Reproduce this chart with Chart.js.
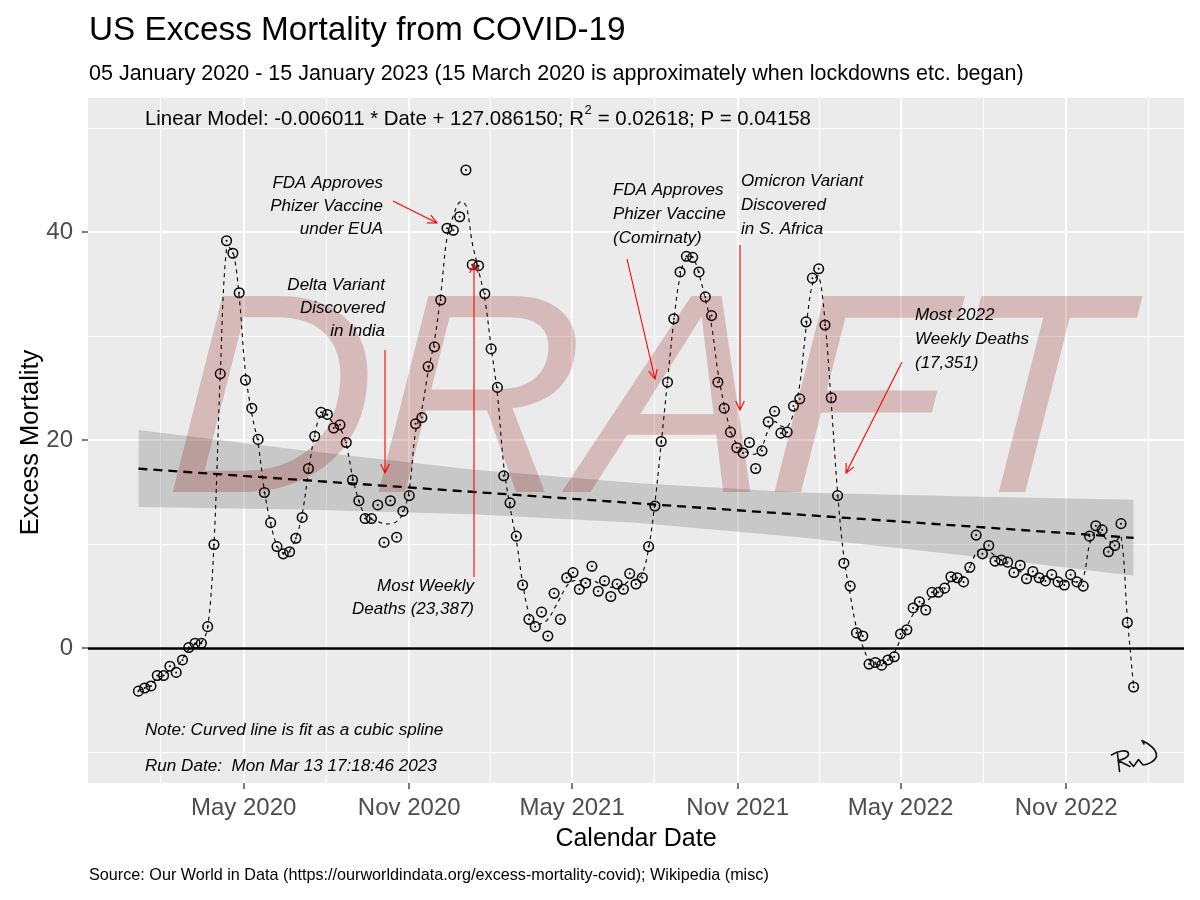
<!DOCTYPE html>
<html>
<head>
<meta charset="utf-8">
<script src="https://cdn.jsdelivr.net/npm/chart.js@4.4.1/dist/chart.umd.min.js"></script>
<style>
  html, body { margin: 0; padding: 0; background: #ffffff; }
  #wrap { width: 1200px; height: 900px; }
</style>
</head>
<body>
<div id="wrap"><canvas id="c" width="1200" height="900"></canvas></div>
<script>
// ---------------- DATA ----------------
const firstWeek = '2020-01-05';           // weekly observations, 05 Jan 2020 .. 15 Jan 2023
const excessMortality = [
  -4.1, -3.8, -3.6, -2.6, -2.6, -1.7, -2.3, -1.1, 0.1, 0.5,
  0.5, 2.1, 10.0, 26.4, 39.2, 38.0, 34.2, 25.8, 23.1, 20.1,
  15.0, 12.1, 9.8, 9.1, 9.3, 10.6, 12.6, 17.3, 20.4, 22.7,
  22.5, 21.2, 21.5, 19.8, 16.2, 14.2, 12.5, 12.5, 13.8, 10.2,
  14.2, 10.7, 13.2, 14.7, 21.6, 22.2, 27.1, 29.0, 33.5, 40.4,
  40.2, 41.5, 46.0, 36.9, 36.8, 34.1, 28.8, 25.1, 16.6, 14.0,
  10.8, 6.1, 2.8, 2.1, 3.5, 1.2, 5.3, 2.8, 6.8, 7.3,
  5.7, 6.3, 7.9, 5.5, 6.5, 5.0, 6.2, 5.7, 7.2, 6.2,
  6.8, 9.8, 13.7, 19.9, 25.6, 31.7, 36.2, 37.7, 37.6, 36.2,
  33.8, 32.0, 25.6, 23.1, 20.8, 19.3, 18.8, 19.8, 17.3, 19.0,
  21.8, 22.8, 20.7, 20.8, 23.3, 24.0, 31.4, 35.6, 36.5, 31.1,
  24.1, 14.7, 8.2, 6.0, 1.5, 1.2, -1.5, -1.35, -1.6, -1.1,
  -0.8, 1.4, 1.8, 3.9, 4.5, 3.7, 5.4, 5.4, 5.8, 6.9,
  6.8, 6.4, 7.8, 10.9, 9.1, 9.9, 8.4, 8.5, 8.3, 7.3,
  8.0, 6.7, 7.4, 6.8, 6.5, 7.1, 6.4, 6.1, 7.1, 6.4,
  6.0, 10.8, 11.8, 11.4, 9.3, 9.9, 12.0, 2.5, -3.7
];
// dashed cubic-spline curve, read at each week from the picture
const splineFit = [
  -4.0, -3.8, -3.4, -2.9, -2.5, -2.1, -1.8, -1.0, -0.1, 0.4,
  0.6, 2.0, 10.0, 26.4, 38.5, 38.2, 33.8, 26.5, 22.6, 19.7,
  15.2, 12.0, 9.9, 9.2, 9.4, 10.6, 12.9, 17.0, 20.6, 22.5,
  22.4, 21.6, 21.2, 19.6, 16.5, 14.2, 12.8, 12.4, 12.2, 12.0,
  12.0, 12.2, 13.0, 15.3, 20.8, 23.0, 26.6, 29.6, 34.0, 39.5,
  41.6, 42.9, 42.6, 39.0, 36.4, 33.6, 29.0, 24.4, 17.6, 13.6,
  10.4, 6.3, 3.4, 2.3, 2.4, 2.8, 3.8, 4.9, 6.0, 6.5,
  6.5, 6.6, 6.6, 6.3, 6.1, 5.9, 5.9, 6.1, 6.5, 6.6,
  7.2, 9.6, 14.0, 19.7, 25.7, 31.5, 35.8, 37.6, 37.6, 36.0,
  33.6, 31.0, 26.6, 23.4, 21.0, 19.6, 19.0, 18.8, 18.7, 19.4,
  21.0, 21.8, 21.4, 21.3, 22.6, 25.4, 30.8, 35.0, 35.8, 31.5,
  23.6, 15.0, 8.8, 5.2, 2.0, 0.2, -1.1, -1.5, -1.5, -1.1,
  -0.4, 0.9, 2.1, 3.3, 4.1, 4.5, 5.0, 5.5, 6.0, 6.5,
  6.7, 6.9, 7.8, 9.2, 9.6, 9.4, 8.9, 8.5, 8.1, 7.7,
  7.4, 7.1, 6.9, 6.8, 6.7, 6.7, 6.5, 6.4, 6.5, 6.4,
  6.8, 10.0, 11.3, 11.0, 10.3, 10.2, 10.8, 3.0, -3.7
];
// linear model trend (dashed) and its confidence ribbon
const trendDates  = ['2020-01-05', '2023-01-15'];
const trendValues = [17.29, 10.64];
const bandDates   = ['2020-01-05', '2020-07-05', '2021-01-10', '2021-07-11', '2022-01-09', '2022-07-17', '2023-01-15'];
const bandUpper   = [21.0, 19.05, 17.2, 15.9, 15.0, 14.6, 14.3];
const bandLower   = [13.6, 13.35, 12.9, 12.1, 10.7, 8.9, 7.0];
// axis ticks
const xTickDates  = ['2020-05-01', '2020-11-01', '2021-05-01', '2021-11-01', '2022-05-01', '2022-11-01'];
const xTickLabels = ['May 2020', 'Nov 2020', 'May 2021', 'Nov 2021', 'May 2022', 'Nov 2022'];
const yMajorTicks = [0, 20, 40];
const yMinorTicks = [-10, 10, 30, 50];
const axisRange   = { xFrom: '2019-11-10', xTo: '2023-03-12', yMin: -12.93, yMax: 52.92 };

// ---------------- helpers ----------------
const day = s => Date.parse(s + 'T00:00:00Z') / 86400000;
const weekDays = excessMortality.map((_, i) => day(firstWeek) + 7 * i);
const pts = arr => arr.map((v, i) => ({ x: weekDays[i], y: v }));
const xMajor = xTickDates.map(day);
const xMinor = [];
for (let i = 0; i < xMajor.length - 1; i++) xMinor.push((xMajor[i] + xMajor[i + 1]) / 2);
xMinor.unshift(xMajor[0] - (xMajor[1] - xMajor[0]) / 2);
xMinor.push(xMajor[xMajor.length - 1] + (xMajor[xMajor.length - 1] - xMajor[xMajor.length - 2]) / 2);
const isXMajor = v => xMajor.some(m => Math.abs(m - v) < 1e-6);
const isYMajor = v => yMajorTicks.indexOf(v) >= 0;

const FONT = '"Liberation Sans", Arial, Helvetica, sans-serif';

// ---------------- plugin: panel background, texts, watermark ----------------
function arrow(ctx, x1, y1, x2, y2) {
  const a = Math.atan2(y2 - y1, x2 - x1), L = 10, w = 0.45;
  ctx.beginPath();
  ctx.moveTo(x1, y1); ctx.lineTo(x2, y2);
  ctx.moveTo(x2 - L * Math.cos(a - w), y2 - L * Math.sin(a - w));
  ctx.lineTo(x2, y2);
  ctx.lineTo(x2 - L * Math.cos(a + w), y2 - L * Math.sin(a + w));
  ctx.stroke();
}
function lines(ctx, arr, x, y0, dy, align) {
  ctx.textAlign = align;
  arr.forEach((t, i) => ctx.fillText(t, x, y0 + i * dy));
}

const decor = {
  id: 'decor',
  beforeDraw(chart) {
    const { ctx, chartArea: a } = chart;
    ctx.save();
    ctx.fillStyle = '#ffffff';
    ctx.fillRect(0, 0, chart.width, chart.height);
    ctx.fillStyle = '#EBEBEB';
    ctx.fillRect(a.left, a.top, a.right - a.left, a.bottom - a.top);
    ctx.restore();
  },
  afterDatasetsDraw(chart) {
    const { ctx, chartArea: a } = chart;
    ctx.save();
    ctx.beginPath();
    ctx.rect(a.left, a.top, a.right - a.left, a.bottom - a.top);
    ctx.clip();
    ctx.fillStyle = 'rgba(139, 0, 0, 0.21)';
    ctx.font = 'italic 285px ' + FONT;
    ctx.textAlign = 'left';
    ctx.textBaseline = 'alphabetic';
    ctx.translate(164, 492);
    ctx.transform(1, 0, -0.06, 1, 0, 0);
    ctx.fillText('DRAFT', 0, 0);
    ctx.restore();
  },
  afterDraw(chart) {
    const { ctx, chartArea: a } = chart;
    ctx.save();
    ctx.fillStyle = '#000000';
    ctx.textBaseline = 'middle';
    // titles
    ctx.textAlign = 'left';
    ctx.font = '33.3px ' + FONT;
    ctx.fillText('US Excess Mortality from COVID-19', 89, 31);
    ctx.font = '21.5px ' + FONT;
    ctx.fillText('05 January 2020 - 15 January 2023 (15 March 2020 is approximately when lockdowns etc. began)', 89, 74);
    ctx.font = '16.2px ' + FONT;
    ctx.fillText('Source: Our World in Data (https://ourworldindata.org/excess-mortality-covid); Wikipedia (misc)', 89, 876);
    // axis titles
    ctx.font = '25px ' + FONT;
    ctx.textAlign = 'center';
    ctx.fillText('Calendar Date', (a.left + a.right) / 2, 839);
    ctx.save();
    ctx.font = '25.5px ' + FONT;
    ctx.translate(31, (a.top + a.bottom) / 2 + 2);
    ctx.rotate(-Math.PI / 2);
    ctx.fillText('Excess Mortality', 0, 0);
    ctx.restore();

    // linear model label
    ctx.textAlign = 'left';
    ctx.font = '20.4px ' + FONT;
    const p1 = 'Linear Model: -0.006011 * Date + 127.086150; R';
    ctx.fillText(p1, 145, 119);
    let x = 145 + ctx.measureText(p1).width;
    ctx.font = '13px ' + FONT;
    ctx.fillText('2', x + 0.5, 110);
    x += ctx.measureText('2').width + 1;
    ctx.font = '20.4px ' + FONT;
    ctx.fillText(' = 0.02618; P = 0.04158', x, 119);

    // notes
    ctx.font = 'italic 17.1px ' + FONT;
    ctx.fillText('Note: Curved line is fit as a cubic spline', 145, 730);
    ctx.fillText('Run Date:  Mon Mar 13 17:18:46 2023', 145, 766);

    // event annotations
    ctx.font = 'italic 17px ' + FONT;
    lines(ctx, ['FDA Approves', 'Phizer Vaccine', 'under EUA'], 383, 183, 23.3, 'right');
    lines(ctx, ['Delta Variant', 'Discovered', 'in India'], 385, 285, 23.3, 'right');
    lines(ctx, ['Most Weekly', 'Deaths (23,387)'], 474, 586, 23.3, 'right');
    lines(ctx, ['FDA Approves', 'Phizer Vaccine', '(Comirnaty)'], 613, 190, 24, 'left');
    lines(ctx, ['Omicron Variant', 'Discovered', 'in S. Africa'], 741, 181, 24, 'left');
    lines(ctx, ['Most 2022', 'Weekly Deaths', '(17,351)'], 915, 315, 24, 'left');

    // red arrows
    ctx.strokeStyle = '#FF0000';
    ctx.lineWidth = 1.1;
    arrow(ctx, 393, 201, 437, 223);
    arrow(ctx, 385, 350, 385, 473);
    arrow(ctx, 474, 577, 474, 264);
    arrow(ctx, 627, 259, 655, 379);
    arrow(ctx, 740, 245, 740, 410);
    arrow(ctx, 902, 362, 846, 473);

    // signature
    ctx.strokeStyle = '#111111';
    ctx.lineWidth = 1.6;
    ctx.lineCap = 'round';
    ctx.lineJoin = 'round';
    ctx.beginPath();
    ctx.moveTo(1119.5, 771.5); ctx.lineTo(1117.5, 753.5);
    ctx.moveTo(1111.5, 755);
    ctx.bezierCurveTo(1118, 751, 1127, 749, 1128.5, 753.5);
    ctx.bezierCurveTo(1129, 757.5, 1122, 760, 1118, 760.5);
    ctx.lineTo(1130, 766.5);
    ctx.moveTo(1129.5, 761.5);
    ctx.lineTo(1133.5, 766.5);
    ctx.lineTo(1138.5, 759.5);
    ctx.lineTo(1143, 765);
    ctx.bezierCurveTo(1148, 765, 1155, 761, 1156.5, 756.5);
    ctx.bezierCurveTo(1157, 750, 1150, 744, 1142, 740.5);
    ctx.lineTo(1144, 744);
    ctx.stroke();
    ctx.restore();
  }
};

// ---------------- chart ----------------
new Chart(document.getElementById('c'), {
  type: 'line',
  data: {
    datasets: [
      { // ribbon upper
        data: bandDates.map((d, i) => ({ x: day(d), y: bandUpper[i] })),
        borderWidth: 0, borderColor: 'rgba(0,0,0,0)', pointRadius: 0,
        backgroundColor: 'rgba(153,153,153,0.42)', fill: '+1', order: 7
      },
      { // ribbon lower
        data: bandDates.map((d, i) => ({ x: day(d), y: bandLower[i] })),
        borderWidth: 0, borderColor: 'rgba(0,0,0,0)', pointRadius: 0, fill: false, order: 6
      },
      { // linear trend
        data: trendDates.map((d, i) => ({ x: day(d), y: trendValues[i] })),
        borderColor: '#000000', borderWidth: 2.3, borderDash: [9, 6], pointRadius: 0, fill: false, order: 5
      },
      { // zero reference line
        data: [{ x: day(axisRange.xFrom), y: 0 }, { x: day(axisRange.xTo), y: 0 }],
        borderColor: '#000000', borderWidth: 2.5, pointRadius: 0, fill: false, order: 4
      },
      { // spline fit
        data: pts(splineFit),
        borderColor: '#000000', borderWidth: 1.1, borderDash: [4, 4], pointRadius: 0,
        tension: 0.35, fill: false, order: 3
      },
      { // observations: open circles
        data: pts(excessMortality), showLine: false,
        pointRadius: 4.8, pointBorderWidth: 1.5, pointBorderColor: '#000000',
        pointBackgroundColor: 'rgba(0,0,0,0)', order: 2
      },
      { // observations: centre dots
        data: pts(excessMortality), showLine: false,
        pointRadius: 1, pointBorderWidth: 0, pointBackgroundColor: '#000000', order: 1
      }
    ]
  },
  options: {
    responsive: false,
    animation: false,
    devicePixelRatio: 1,
    layout: { padding: { left: 0, right: 16, top: 98, bottom: 0 } },
    plugins: { legend: { display: false }, tooltip: { enabled: false }, title: { display: false } },
    elements: { line: { borderCapStyle: 'butt' } },
    scales: {
      x: {
        type: 'linear',
        min: day(axisRange.xFrom), max: day(axisRange.xTo),
        afterFit: s => { s.height = 117; },
        afterBuildTicks: s => {
          s.ticks = xMinor.concat(xMajor).sort((a, b) => a - b).map(v => ({ value: v }));
        },
        ticks: {
          autoSkip: false, maxRotation: 0, minRotation: 0, padding: 5,
          color: '#4D4D4D', font: { family: FONT, size: 24 },
          callback: v => { const i = xMajor.findIndex(m => Math.abs(m - v) < 1e-6); return i >= 0 ? xTickLabels[i] : ''; }
        },
        grid: {
          color: '#FFFFFF',
          lineWidth: c => (c.tick && isXMajor(c.tick.value)) ? 2 : 1,
          drawTicks: true, tickLength: 6,
          tickColor: c => (c.tick && isXMajor(c.tick.value)) ? '#333333' : 'rgba(0,0,0,0)',
          tickWidth: 1.3
        },
        border: { display: false }
      },
      y: {
        type: 'linear',
        min: axisRange.yMin, max: axisRange.yMax,
        afterFit: s => { s.width = 88; },
        afterBuildTicks: s => {
          s.ticks = yMinorTicks.concat(yMajorTicks).sort((a, b) => a - b).map(v => ({ value: v }));
        },
        ticks: {
          autoSkip: false, padding: 9,
          color: '#4D4D4D', font: { family: FONT, size: 24 },
          callback: v => isYMajor(v) ? String(v) : ''
        },
        grid: {
          color: '#FFFFFF',
          lineWidth: c => (c.tick && isYMajor(c.tick.value)) ? 2 : 1,
          drawTicks: true, tickLength: 6,
          tickColor: c => (c.tick && isYMajor(c.tick.value)) ? '#333333' : 'rgba(0,0,0,0)',
          tickWidth: 1.3
        },
        border: { display: false }
      }
    }
  },
  plugins: [decor]
});
</script>
</body>
</html>
